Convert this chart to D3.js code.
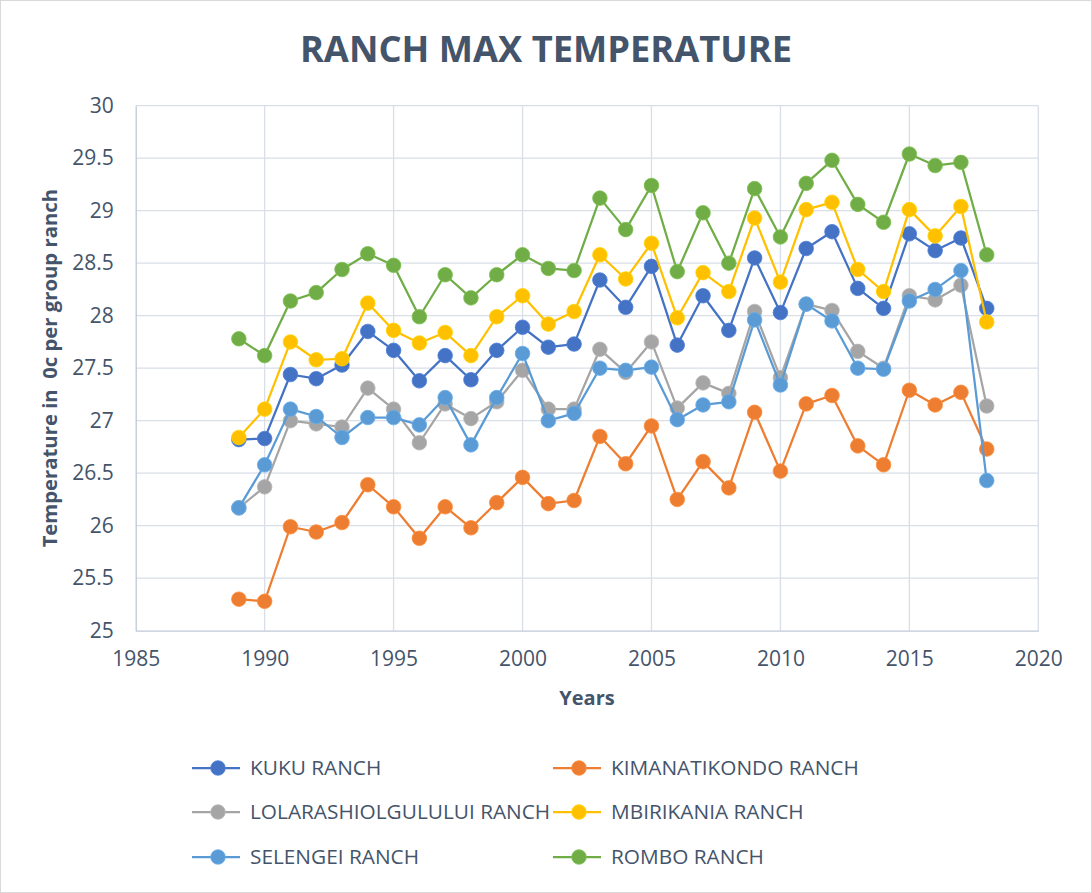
<!DOCTYPE html>
<html>
<head>
<meta charset="utf-8">
<script src="https://cdn.jsdelivr.net/npm/d3@7"></script>
<style>
  html, body { margin: 0; padding: 0; background: #fff; }
  svg { display: block; font-family: "Open Sans", sans-serif; }
</style>
</head>
<body>
<svg id="chart" width="1092" height="893"></svg>
<script>
const years = [1989,1990,1991,1992,1993,1994,1995,1996,1997,1998,1999,2000,2001,2002,2003,2004,2005,2006,2007,2008,2009,2010,2011,2012,2013,2014,2015,2016,2017,2018];

const seriesNames = ["KUKU RANCH","KIMANATIKONDO RANCH","LOLARASHIOLGULULUI RANCH","MBIRIKANIA RANCH","SELENGEI RANCH","ROMBO RANCH"];
const seriesColors = ["#4472C4","#ED7D31","#A5A5A5","#FFC000","#5B9BD5","#70AD47"];

const kuku = [26.82,26.83,27.44,27.40,27.53,27.85,27.67,27.38,27.62,27.39,27.67,27.89,27.70,27.73,28.34,28.08,28.47,27.72,28.19,27.86,28.55,28.03,28.64,28.80,28.26,28.07,28.78,28.62,28.74,28.07];
const kimanatikondo = [25.30,25.28,25.99,25.94,26.03,26.39,26.18,25.88,26.18,25.98,26.22,26.46,26.21,26.24,26.85,26.59,26.95,26.25,26.61,26.36,27.08,26.52,27.16,27.24,26.76,26.58,27.29,27.15,27.27,26.73];
const lolarashi = [26.17,26.37,27.00,26.97,26.94,27.31,27.11,26.79,27.16,27.02,27.18,27.48,27.11,27.11,27.68,27.46,27.75,27.12,27.36,27.26,28.04,27.41,28.11,28.05,27.66,27.50,28.19,28.15,28.29,27.14];
const mbirikania = [26.84,27.11,27.75,27.58,27.59,28.12,27.86,27.74,27.84,27.62,27.99,28.19,27.92,28.04,28.58,28.35,28.69,27.98,28.41,28.23,28.93,28.32,29.01,29.08,28.44,28.23,29.01,28.76,29.04,27.94];
const selengei = [26.17,26.58,27.11,27.04,26.84,27.03,27.03,26.96,27.22,26.77,27.22,27.64,27.00,27.07,27.50,27.48,27.51,27.01,27.15,27.18,27.96,27.34,28.11,27.95,27.50,27.49,28.14,28.25,28.43,26.43];
const rombo = [27.78,27.62,28.14,28.22,28.44,28.59,28.48,27.99,28.39,28.17,28.39,28.58,28.45,28.43,29.12,28.82,29.24,28.42,28.98,28.50,29.21,28.75,29.26,29.48,29.06,28.89,29.54,29.43,29.46,28.58];

const xTicks = [1985,1990,1995,2000,2005,2010,2015,2020];
const yTicks = [25,25.5,26,26.5,27,27.5,28,28.5,29,29.5,30];

const titleText = "RANCH MAX TEMPERATURE";
const xTitle = "Years";
const yTitle = "Temperature in  0c per group ranch";

const seriesValues = [kuku, kimanatikondo, lolarashi, mbirikania, selengei, rombo];
const series = seriesNames.map((n, i) => ({
  name: n, color: seriesColors[i],
  values: years.map((y, j) => ({year: y, value: seriesValues[i][j]}))
}));

const svg = d3.select("#chart");
const textColor = "#44546A";

// chart border
svg.append("rect").attr("x", 0.5).attr("y", 0.5).attr("width", 1091).attr("height", 892)
  .attr("fill", "#fff").attr("stroke", "#D9D9D9");

const x = d3.scaleLinear().domain([1985, 2020]).range([135.7, 1038.3]);
const y = d3.scaleLinear().domain([25, 30]).range([630.7, 105.7]);

// gridlines
const grid = svg.append("g");
grid.selectAll("line.h").data(yTicks.filter(t => t !== 25)).enter().append("line")
  .attr("x1", x(1985)).attr("x2", x(2020))
  .attr("y1", d => y(d)).attr("y2", d => y(d))
  .attr("stroke", "#D9DEE7").attr("stroke-width", 1.3);
grid.selectAll("line.v").data(xTicks.filter(t => t !== 1985)).enter().append("line")
  .attr("y1", y(25)).attr("y2", y(30))
  .attr("x1", d => x(d)).attr("x2", d => x(d))
  .attr("stroke", "#D9DEE7").attr("stroke-width", 1.3);

// axes
const xAxis = d3.axisBottom(x).tickValues(xTicks).tickFormat(d3.format("d")).tickSize(0).tickPadding(20);
const yAxis = d3.axisLeft(y).tickValues(yTicks).tickFormat(d => String(d)).tickSize(0).tickPadding(22);

const gx = svg.append("g").attr("transform", `translate(0,${y(25)})`).call(xAxis);
const gy = svg.append("g").attr("transform", `translate(${x(1985)},0)`).call(yAxis);
[gx, gy].forEach(g => {
  g.select(".domain").attr("stroke", "#BFC8D8").attr("stroke-width", 1.3);
  g.selectAll("text").attr("fill", textColor).style("font-size", "21px")
    .style("font-family", "'Open Sans', sans-serif");
});
gx.selectAll("text").attr("dy", "0.71em");

// lines and markers
const line = d3.line().x(d => x(d.year)).y(d => y(d.value));
series.forEach(s => {
  const g = svg.append("g");
  g.append("path").datum(s.values).attr("d", line)
    .attr("fill", "none").attr("stroke", s.color).attr("stroke-width", 2.25)
    .attr("stroke-linejoin", "round");
  g.selectAll("circle").data(s.values).enter().append("circle")
    .attr("cx", d => x(d.year)).attr("cy", d => y(d.value)).attr("r", 7.3)
    .attr("fill", s.color).attr("stroke", d3.color(s.color).brighter(0.3)).attr("stroke-width", 0.8);
});

// title
svg.append("text").attr("x", 546).attr("y", 62).attr("text-anchor", "middle")
  .attr("fill", textColor).style("font-size", "36.3px").style("font-weight", "bold")
  .text(titleText);

// axis titles
svg.append("text").attr("x", x(2002.5)).attr("y", 705).attr("text-anchor", "middle")
  .attr("fill", textColor).style("font-size", "20px").style("font-weight", "bold")
  .text(xTitle);
svg.append("text").attr("transform", `translate(57,${y(27.5)}) rotate(-90)`)
  .attr("text-anchor", "middle").attr("fill", textColor)
  .style("font-size", "20.3px").style("font-weight", "bold").style("white-space", "pre")
  .text(yTitle);

// legend
const legendCols = [192, 553];
const legendRows = [768, 812, 857];
const lg = svg.append("g");
series.forEach((s, i) => {
  const lx = legendCols[i % 2], ly = legendRows[Math.floor(i / 2)];
  const item = lg.append("g").attr("transform", `translate(${lx},${ly})`);
  item.append("line").attr("x1", 0).attr("x2", 48).attr("y1", 0).attr("y2", 0)
    .attr("stroke", s.color).attr("stroke-width", 2.25);
  item.append("circle").attr("cx", 26).attr("cy", 0).attr("r", 7.3)
    .attr("fill", s.color).attr("stroke", d3.color(s.color).brighter(0.3)).attr("stroke-width", 0.8);
  item.append("text").attr("x", 58).attr("y", 0).attr("dy", "0.35em")
    .attr("fill", textColor).style("font-size", "20.8px").text(s.name);
});
</script>
</body>
</html>
